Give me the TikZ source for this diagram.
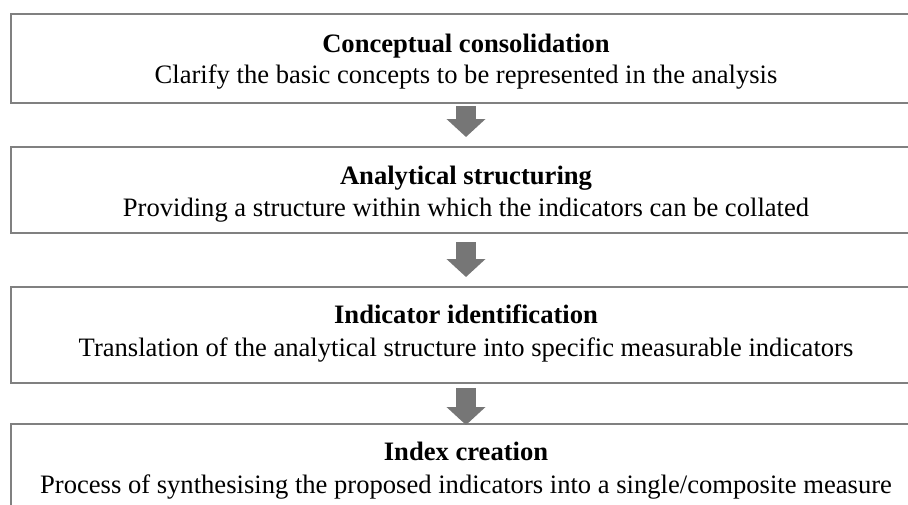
\documentclass[tikz,border=0pt]{standalone}
\usepackage{fontspec}
\setmainfont{Liberation Serif}
\usetikzlibrary{arrows.meta}
\definecolor{boxgray}{RGB}{128,128,128}
\definecolor{arrowgray}{RGB}{118,118,118}
\begin{document}
\begin{tikzpicture}[x=1pt,y=-1pt,
  box/.style={draw=boxgray, line width=2pt, minimum width=910pt, inner sep=0pt, fill=white},
  title/.style={anchor=base, inner sep=0pt, font=\fontsize{26.6}{30}\selectfont\bfseries},
  sub/.style={anchor=base, inner sep=0pt, font=\fontsize{26.6}{30}\selectfont},
  flow/.style={draw=arrowgray, line width=20pt, -{Triangle[width=38pt,length=18pt]}}]
\useasboundingbox (0,0) rectangle (908,504);
\clip (0,0) rectangle (908,504);
\node[box, minimum height=89pt] (b1) at (466,58.5) {};
\node[box, minimum height=86pt] (b2) at (466,190) {};
\node[box, minimum height=96pt] (b3) at (466,335) {};
\node[box, minimum height=89pt] (b4) at (466,468.5) {};
\node[title] (t1) at (466,52) {Conceptual consolidation};
\node[sub] (s1) at (466,83) {Clarify the basic concepts to be represented in the analysis};
\node[title] (t2) at (466,184) {Analytical structuring};
\node[sub] (s2) at (466,216) {Providing a structure within which the indicators can be collated};
\node[title] (t3) at (466,323) {Indicator identification};
\node[sub] (s3) at (466,356) {Translation of the analytical structure into specific measurable indicators};
\node[title] (t4) at (466,460) {Index creation};
\node[sub] (s4) at (466,493) {Process of synthesising the proposed indicators into a single/composite measure};
\draw[flow] ([yshift=-2pt]b1.south) -- ([yshift=9pt]b2.north);
\draw[flow] ([yshift=-8pt]b2.south) -- ([yshift=9pt]b3.north);
\draw[flow] ([yshift=-4pt]b3.south) -- ([yshift=-2pt]b4.north);
\end{tikzpicture}
\end{document}
